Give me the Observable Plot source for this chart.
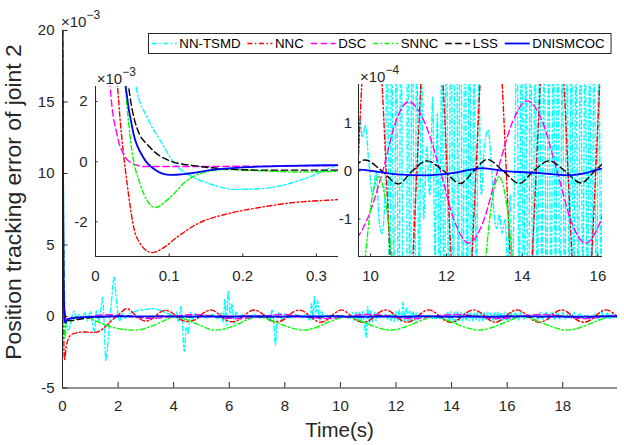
<!DOCTYPE html>
<html><head><meta charset="utf-8">
<script src="https://cdn.jsdelivr.net/npm/d3@7"></script>
<script src="https://cdn.jsdelivr.net/npm/@observablehq/plot@0.6"></script>
<style>
body{margin:0;background:#fff;}
#chart{position:relative;width:624px;height:445px;}
#chart svg{position:absolute;overflow:visible;background:transparent;}
</style></head><body><div id="chart"></div>
<script>
// ---- data (error values in units of 1e-3) ----
const seriesNames = ["NN-TSMD","NNC","DSC","SNNC","LSS","DNISMCOC"];
const seriesColors = ["#00ffff","#ff0000","#ff00ff","#00ff00","#000000","#0000ff"];

const nnTsmd = [[0,20],[0.04,7],[0.055,2.5],[0.07,1.48],[0.088,0.7],[0.106,-0.02],[0.133,-0.52],[0.156,-0.74],[0.187,-0.92],[0.223,-0.9],[0.268,-0.69],[0.305,-0.36],[0.33,-0.08],
[0.42,0.35],[0.5,-0.1],[0.6,0.15],[0.7,-0.2],[0.8,0.3],[0.9,-0.3],[1.0,0.35],[1.08,-0.5],[1.15,-1.1],[1.22,0.4],[1.3,-0.3],[1.38,0.5],[1.44,1.35],[1.5,-0.5],[1.56,-3.08],[1.66,-1.2],[1.76,1.0],[1.86,2.75],[1.95,0.9],[2.05,-0.3],[2.15,0.2],[2.25,-0.1],[2.4,0.15],[2.6,0.35],[3.0,0.5],[3.2,0.55],[3.5,0.45],[3.8,0.2],[4.0,0.05],[4.1,0.3],[4.18,-0.4],[4.26,0.7],[4.32,-0.6],[4.38,-2.45],[4.45,-0.8],[4.52,-1.2],[4.6,0.3],[4.68,-0.3],[4.76,0.2],[4.85,-0.15],[5.0,0.1],[5.2,-0.1],[5.4,0.15],[5.6,-0.2],[5.7,0.3],[5.78,-0.4],[5.84,1.2],[5.9,-0.6],[5.96,1.75],[6.03,0.2],[6.1,0.9],[6.17,-0.5],[6.25,0.3],[6.35,-0.2],[6.5,0.15],[6.7,-0.1],[6.9,0.15],[7.1,-0.1],[7.3,0.15],[7.45,-0.3],[7.55,0.5],[7.61,-0.6],[7.66,-1.98],[7.72,-0.4],[7.8,0.3],[7.9,-0.25],[8.0,0.2],[8.2,-0.1],[8.4,0.15],[8.6,-0.1],[8.8,0.2],[8.9,-0.3],[8.96,0.9],[9.02,-0.2],[9.06,1.4],[9.12,0.3],[9.18,1.1],[9.25,-0.3],[9.32,0.4],[9.4,-0.1],[9.5,0.15],[9.6,-0.05],
[9.68,0.04],[9.72,0.11],[9.78,0.07],[9.86,0.095],[9.95,0.02],[10.05,-0.05],[10.15,0.0],[10.22,-0.1],[10.3,-0.13],[10.38,-0.05],
[10.44,0.28],[10.5,-0.3],[10.56,0.32],[10.62,-0.35],[10.68,0.3],[10.74,-0.4],[10.8,0.35],[10.86,-0.5],[10.93,-1.45],[10.98,0.7],[11.04,-0.45],[11.1,0.4],[11.16,-0.35],[11.22,0.3],[11.28,-0.3],[11.34,0.25],[11.4,-0.1],
[11.48,0.05],[11.56,-0.05],[11.64,0.154],[11.7,-0.2],[11.76,0.12],
[11.82,-0.3],[11.88,0.3],[11.94,-0.35],[12.0,0.35],[12.06,-0.3],[12.12,0.45],[12.18,-0.4],[12.25,0.98],[12.31,-0.3],[12.37,0.6],[12.43,-0.4],[12.49,0.4],[12.55,-0.3],[12.61,0.35],[12.67,-0.3],[12.73,0.25],[12.79,-0.25],[12.85,0.2],
[12.92,-0.05],[13.0,0.05],[13.1,0.085],[13.18,0.02],[13.25,-0.08],[13.33,-0.12],[13.4,-0.09],[13.47,-0.13],[13.55,-0.1],[13.62,-0.2],[13.68,-0.05],[13.74,-0.22],[13.8,0.0],
[13.86,0.3],[13.92,-0.3],[13.98,0.35],[14.04,-0.35],[14.1,0.3],[14.16,-0.5],[14.22,0.35],[14.28,-0.3],[14.34,0.3],[14.4,-0.3],[14.46,0.3],[14.52,-0.25],[14.58,0.3],[14.64,-0.3],[14.7,0.25],[14.76,-0.3],[14.82,0.3],[14.88,-0.25],[14.94,0.3],[15.0,-0.3],[15.06,0.25],[15.12,-0.3],[15.18,0.3],[15.24,-0.25],[15.3,0.3],[15.36,-0.3],[15.42,0.25],[15.48,-0.3],[15.54,0.3],[15.6,-0.25],[15.66,0.3],[15.72,-0.3],[15.78,0.25],[15.84,-0.25],[15.9,0.3],[15.96,-0.3],[16.02,0.25],[16.08,-0.25],[16.14,0.3],[16.2,-0.2],
[16.3,0.3],[16.4,-0.25],[16.5,0.3],[16.6,-0.2],[16.7,0.15],[16.85,-0.1],[17.0,0.2],[17.1,-0.2],[17.2,0.3],[17.3,-0.2],[17.4,0.3],[17.5,-0.25],[17.6,0.3],[17.7,-0.2],[17.8,0.25],[17.9,-0.2],[18.0,0.3],[18.1,-0.2],[18.2,0.25],[18.3,-0.15],[18.4,0.3],[18.5,-0.2],[18.6,0.25],[18.7,-0.1],[18.85,0.1],[19.0,-0.05],[19.2,0.2],[19.3,-0.2],[19.4,0.3],[19.5,-0.15],[19.6,0.25],[19.7,-0.2],[19.8,0.2],[19.9,-0.1],[19.97,0.05]];

const nnc = [[0,20],[0.018,8],[0.03,2.5],[0.043,-0.74],[0.056,-2.52],[0.0765,-3.02],[0.093,-2.85],[0.11,-2.52],[0.142,-2.02],[0.178,-1.74],[0.223,-1.52],[0.268,-1.36],[0.33,-1.26],
[0.5,-1.14],[0.8,-1.08],[1.1,-1.12],[1.35,-1.0],[1.6,-0.6],[1.85,-0.15],[1.95,0],[2.05,0.18],[2.31,0.55],[2.58,0.18],[2.68,0],[2.78,-0.16],[3.0,-0.32],[3.22,-0.16],[3.32,0],[3.42,0.17],[3.7,0.43],[4.0,0.17],[4.1,0],[4.2,-0.17],[4.5,-0.35],[4.82,-0.17],[4.92,0],[5.02,0.17],[5.34,0.45],[5.62,0.17],[5.72,0],[5.82,-0.17],[6.1,-0.37],[6.4,-0.17],[6.5,0],[6.6,0.17],[6.9,0.45],[7.2,0.17],[7.3,0],[7.4,-0.17],[7.7,-0.38],[8.0,-0.17],[8.1,0],[8.2,0.17],[8.52,0.45],[8.82,0.17],[8.92,0],[9.02,-0.17],[9.3,-0.4],[9.56,-0.17],[9.66,0],[9.76,0.17],[10.05,0.46],[10.31,0.17],[10.41,0],[10.51,-0.17],[10.82,-0.4],[11.12,-0.17],[11.22,0],[11.32,0.17],[11.62,0.46],[11.92,0.17],[12.02,0],[12.12,-0.17],[12.4,-0.4],[12.68,-0.17],[12.78,0],[12.88,0.17],[13.18,0.46],[13.48,0.17],[13.58,0],[13.68,-0.17],[13.98,-0.4],[14.27,-0.17],[14.37,0],[14.47,0.17],[14.79,0.46],[15.11,0.17],[15.21,0],[15.31,-0.17],[15.58,-0.4],[15.84,-0.17],[15.94,0],[16.04,0.17],[16.36,0.46],[16.66,0.17],[16.76,0],[16.86,-0.17],[17.16,-0.4],[17.46,-0.17],[17.56,0],[17.66,0.17],[17.96,0.46],[18.26,0.17],[18.36,0],[18.46,-0.17],[18.76,-0.4],[19.06,-0.17],[19.16,0],[19.26,0.17],[19.56,0.46],[19.86,0.17],[19.97,-0.02]];

const dsc = [[0,20],[0.012,7],[0.02,2.5],[0.029,0.92],[0.038,0.26],[0.052,-0.08],[0.067,-0.16],[0.12,-0.16],[0.2,-0.15],[0.33,-0.13],
[0.8,-0.05],[1.6,0.13],[2.4,0],[3.15,-0.14],[3.95,0],[4.73,0.14],[5.5,0],[6.3,-0.15],[7.1,0],[7.87,0.145],[8.65,0],[9.45,-0.15],[9.88,-0.106],[10.32,0],[10.66,0.102],[11.0,0.144],[11.42,0.102],[11.84,0],[12.22,-0.106],[12.59,-0.15],[12.97,-0.106],[13.35,0],[13.75,0.103],[14.14,0.146],[14.53,0.103],[14.92,0],[15.3,-0.106],[15.67,-0.15],[16.06,-0.106],[16.45,0],[17.25,0.145],[18.03,0],[18.8,-0.15],[19.55,0],[19.97,0.08]];

const snnc = [[0,20],[0.028,7],[0.0404,2.5],[0.0494,0.37],[0.0607,-0.74],[0.081,-1.52],[0.101,-1.19],[0.124,-0.63],[0.146,-0.36],[0.178,-0.26],[0.223,-0.3],[0.27,-0.34],[0.33,-0.32],
[0.45,-0.12],[0.6,-0.03],[0.75,-0.04],[0.95,-0.12],[1.3,-0.4],[1.8,-0.75],[2.6,-0.95],[3.3,-0.6],[3.7,-0.25],[4.05,-0.01],[4.4,-0.18],[4.8,-0.5],[5.5,-0.95],[6.3,-0.55],[6.7,-0.18],[7.05,-0.01],[7.4,-0.18],[7.75,-0.45],[8.15,-0.75],[8.65,-0.95],[9.15,-0.75],[9.5,-0.45],[9.86,-0.178],[10.01,-0.07],[10.21,-0.012],[10.41,-0.07],[10.56,-0.178],[10.9,-0.45],[11.3,-0.75],[11.8,-0.95],[12.3,-0.75],[12.69,-0.45],[13.04,-0.178],[13.19,-0.07],[13.39,-0.012],[13.59,-0.07],[13.74,-0.178],[14.08,-0.45],[14.48,-0.75],[14.98,-0.95],[15.48,-0.75],[15.87,-0.45],[16.22,-0.178],[16.37,-0.07],[16.57,-0.012],[16.77,-0.07],[16.92,-0.178],[17.26,-0.45],[17.66,-0.75],[18.16,-0.95],[18.66,-0.75],[19.05,-0.45],[19.4,-0.178],[19.55,-0.07],[19.75,-0.012],[19.97,-0.09]];

const lss = [[0,20],[0.03,7],[0.045,2.5],[0.056,1.14],[0.074,0.48],[0.101,0.03],[0.133,-0.13],[0.178,-0.24],[0.223,-0.28],[0.33,-0.28],
[0.6,-0.19],[1.0,-0.08],[1.5,-0.02],[2.2,0.02],[2.9,-0.025],[3.6,0.022],[4.4,-0.025],[5.2,0.022],[6.0,-0.025],[6.8,0.022],[7.6,-0.025],[8.4,0.022],[9.15,-0.025],[9.85,0.023],[10.3,0],[10.73,-0.027],[11.1,0],[11.49,0.021],[11.93,0],[12.37,-0.026],[12.72,0],[13.08,0.024],[13.5,0],[13.92,-0.026],[14.3,0],[14.71,0.021],[15.13,0],[15.55,-0.025],[15.92,0],[16.3,0.022],[17.1,-0.025],[17.9,0.022],[18.7,-0.025],[19.5,0.022],[19.97,0]];

const dnismcoc = [[0,20],[0.03,6],[0.041,2.5],[0.0517,0.92],[0.065,0.14],[0.083,-0.3],[0.101,-0.44],[0.124,-0.4],[0.156,-0.28],[0.2,-0.19],[0.26,-0.14],[0.33,-0.11],
[0.6,-0.06],[1.0,-0.02],[1.6,0],[3.0,0.005],[5.0,-0.006],[6.5,0.004],[8.0,-0.006],[9.2,0.002],[9.68,0.003],[10.2,-0.002],[10.7,-0.007],[11.5,-0.009],[12.2,-0.004],[12.95,0.006],[13.5,0.0],[14.4,-0.004],[15.2,-0.009],[15.7,-0.004],[16.1,0.005],[16.6,0.006],[17.5,-0.003],[18.5,-0.008],[19.5,0.003],[19.97,0.004]];

const mainXDomain = [0, 19.97], mainYDomain = [-5, 20];
const mainXTicks = [0,2,4,6,8,10,12,14,16,18];
const mainYTicks = [-5,0,5,10,15,20];
const in1XDomain = [0, 0.33], in1YDomain = [-3.15, 2.5];
const in1XTicks = [0,0.1,0.2,0.3], in1YTicks = [-2,0,2];
const in2XDomain = [9.68, 16.12], in2YDomain = [-0.178, 0.18];
const in2XTicks = [10,12,14,16], in2YTicks = [-0.1,0,0.1];
const yLabel = "Position tracking error of joint 2";
const xLabel = "Time(s)";

// ---- styling ----
const seriesData = [nnTsmd, nnc, dsc, snnc, lss, dnismcoc];
const dashDot = "5,2.5,1.5,2.5", dashed = "6.5,3.5";
const seriesDash = [dashDot, dashDot, dashed, dashDot, dashed, null];
const seriesWidth = [1.4,1.4,1.4,1.4,1.4,1.8];
const axisColor = "#262626";
const fontFam = "'Liberation Sans', Arial, Helvetica, sans-serif";
const baseStyle = {background:"transparent", color: axisColor, fontFamily: fontFam, fontSize:"15px", overflow:"visible"};

function curveMarks(){
  return seriesData.map((data,i)=>Plot.line(data,{x:d=>d[0], y:d=>d[1], stroke:seriesColors[i], strokeWidth:seriesWidth[i],
    strokeDasharray: seriesDash[i] || undefined, curve:"monotone-x", clip:true}));
}
function axes(xd, yd, xt, yt, xf, yf, tick, xPad, yPad){
  return [
    Plot.ruleX([xd[0]], {stroke: axisColor, strokeWidth: 1}),
    Plot.ruleY([yd[0]], {stroke: axisColor, strokeWidth: 1}),
    Plot.axisX({ticks: xt, tickFormat: xf, tickSize: -tick, tickPadding: xPad, fontSize: 15, label: null, stroke: axisColor}),
    Plot.axisY({ticks: yt, tickFormat: yf, tickSize: -tick, tickPadding: yPad, fontSize: 15, label: null, stroke: axisColor})
  ];
}
function addExp(svg, x, y, exp){
  const t = d3.select(svg).append("text").attr("x",x).attr("y",y).attr("font-family",fontFam)
    .attr("text-anchor","start").attr("font-size",15).attr("fill",axisColor);
  t.append("tspan").text("×10");
  t.append("tspan").attr("dy",-8).attr("font-size",12).text(exp);
}

const root = document.getElementById("chart");

// ---- main axes ----
const main = Plot.plot({
  width: 624, height: 445, marginLeft: 62, marginRight: 7, marginTop: 30, marginBottom: 57.5,
  style: baseStyle,
  x: {domain: mainXDomain}, y: {domain: mainYDomain},
  marks: [
    ...curveMarks(),
    ...axes(mainXDomain, mainYDomain, mainXTicks, mainYTicks, d=>String(d), d=>String(d), 5.5, 17.5, 13.5)
  ]
});
main.style.left="0px"; main.style.top="0px";
root.append(main);
const ms = d3.select(main);
ms.append("text").attr("x",339.5).attr("y",437).attr("text-anchor","middle").attr("font-family",fontFam)
  .attr("font-size",20.5).attr("fill",axisColor).text(xLabel);
ms.append("text").attr("transform","translate(21,202) rotate(-90)").attr("text-anchor","middle").attr("font-family",fontFam)
  .attr("font-size",22.9).attr("fill",axisColor).text(yLabel);
addExp(main, 61, 26.7, "−3");

// legend
const lg = ms.append("g");
const box = lg.append("rect").attr("x",148.5).attr("y",33.5).attr("height",20).attr("fill","white").attr("stroke",axisColor).attr("stroke-width",1);
let lx = 151.7; const ly = 43.5;
seriesNames.forEach((n,i)=>{
  lg.append("line").attr("x1",lx).attr("x2",lx+25).attr("y1",ly).attr("y2",ly).attr("stroke",seriesColors[i])
    .attr("stroke-width",seriesWidth[i]).attr("stroke-dasharray",seriesDash[i]);
  const t = lg.append("text").attr("x",lx+27.6).attr("y",ly+4.8).attr("text-anchor","start").attr("font-family",fontFam)
    .attr("font-size",13.3).attr("fill","#000").text(n);
  lx = lx + 27.6 + t.node().getComputedTextLength() + 6.8;
});
box.attr("width", lx - 6.8 + 6.3 - 148.5);

// ---- inset 1 ----
const in1 = Plot.plot({
  width: 288, height: 240, marginLeft: 40, marginRight: 5, marginTop: 30, marginBottom: 40,
  style: baseStyle, x: {domain: in1XDomain}, y: {domain: in1YDomain},
  marks: [
    Plot.frame({fill:"white", stroke:"none"}),
    ...curveMarks(),
    ...axes(in1XDomain, in1YDomain, in1XTicks, in1YTicks, d=>String(d), d=>String(d), 2.5, 15.9, 10.5)
  ]
});
in1.style.left="55px"; in1.style.top="56px";
root.append(in1);
addExp(in1, 41.7, 27.5, "−3");

// ---- inset 2 ----
const in2 = Plot.plot({
  width: 289, height: 242, marginLeft: 40, marginRight: 5, marginTop: 30, marginBottom: 40,
  style: baseStyle, x: {domain: in2XDomain}, y: {domain: in2YDomain},
  marks: [
    Plot.frame({fill:"white", stroke:"none"}),
    ...curveMarks(),
    ...axes(in2XDomain, in2YDomain, in2XTicks, in2YTicks, d=>String(d), d=>String(Math.round(d*10)), 2.5, 15.9, 9)
  ]
});
in2.style.left="318px"; in2.style.top="54px";
root.append(in2);
addExp(in2, 42, 28, "−4");
</script></body></html>
